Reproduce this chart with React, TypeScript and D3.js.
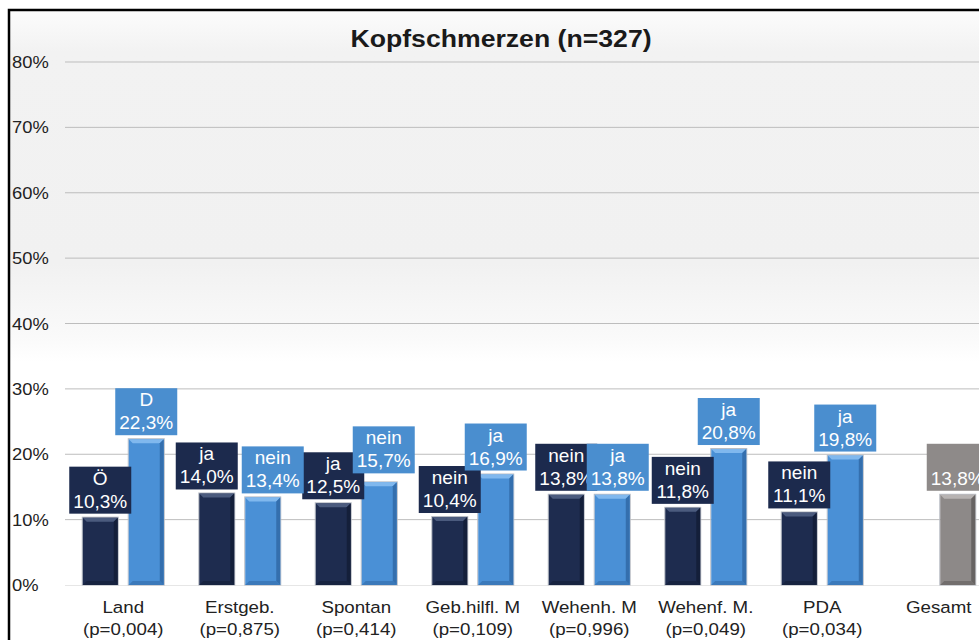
import * as d3 from 'd3'

const categories = ['Land', 'Erstgeb.', 'Spontan', 'Geb.hilfl. M', 'Wehenh. M', 'Wehenf. M.', 'PDA', 'Gesamt']
const pValues = ['(p=0,004)', '(p=0,875)', '(p=0,414)', '(p=0,109)', '(p=0,996)', '(p=0,049)', '(p=0,034)', '']
const groupALabels = ['Ö', 'ja', 'ja', 'nein', 'nein', 'nein', 'nein']
const groupAValues = [10.3, 14.0, 12.5, 10.4, 13.8, 11.8, 11.1]
const groupBLabels = ['D', 'nein', 'nein', 'ja', 'ja', 'ja', 'ja']
const groupBValues = [22.3, 13.4, 15.7, 16.9, 13.8, 20.8, 19.8]
const totalValue = 13.8
const yTicks = [0, 10, 20, 30, 40, 50, 60, 70, 80]

// label placement tweaks (Excel pushes colliding labels apart)
const labelNudge: Record<string, [number, number]> = {
  'Erstgeb.|a': [-10, 0],
  'Erstgeb.|b': [10, 0],
  'Spontan|b': [4.5, -5],
  'Wehenh. M|b': [5.5, 0],
  'Gesamt|b': [-4, 0],
}

const W = 979, H = 640
const FONT = '"Liberation Sans", Arial, sans-serif'

const palette = {
  a: { base: '#1e2c4f', top: '#4b5b7e', side: '#141f3a', box: '#1c2a4d' },
  b: { base: '#4a90d6', top: '#80b8ee', side: '#346fae', box: '#4a8ecf' },
  t: { base: '#8d8988', top: '#b7b3b2', side: '#676362', box: '#8e8a89' },
}

type Kind = 'a' | 'b' | 't'
interface Item { cat: string; slot: 'a' | 'b'; kind: Kind; value: number; label: string }

const items: Item[] = [
  ...groupAValues.map((v, i) => ({ cat: categories[i], slot: 'a' as const, kind: 'a' as Kind, value: v, label: groupALabels[i] })),
  ...groupBValues.map((v, i) => ({ cat: categories[i], slot: 'b' as const, kind: 'b' as Kind, value: v, label: groupBLabels[i] })),
  { cat: 'Gesamt', slot: 'b', kind: 't', value: totalValue, label: '' },
]

const fmt = (v: number) => v.toFixed(1).replace('.', ',') + '%'

// text that is a bit wider than normal, like the original rendering
function SText({ x, y, sx = 1.1, children, ...rest }: any) {
  return (
    <text transform={`translate(${x},${y}) scale(${sx},1)`} {...rest}>{children}</text>
  )
}

function Bar({ x, y, w, h, kind }: { x: number; y: number; w: number; h: number; kind: Kind }) {
  const c = palette[kind]
  const b = 4
  return (
    <g>
      <rect x={x - 0.5} y={y - 0.5} width={w + 1} height={h + 0.5} fill="none" stroke="#b8bcc4" strokeWidth={1} />
      <rect x={x} y={y} width={w} height={h} fill={c.base} />
      <polygon points={`${x},${y} ${x + w},${y} ${x + w - b},${y + b} ${x + b},${y + b}`} fill={c.top} />
      <polygon points={`${x + w},${y} ${x + w},${y + h} ${x + w - b},${y + h - b} ${x + w - b},${y + b}`} fill={c.side} />
      <polygon points={`${x},${y + h} ${x + b},${y + h - b} ${x + w - b},${y + h - b} ${x + w},${y + h}`} fill={c.side} opacity={0.7} />
    </g>
  )
}

export default function App() {
  const x0 = d3.scaleBand<string>().domain(categories).range([65, 997])
  const x1 = d3.scaleBand<string>().domain(['a', 'b']).range([17.75, 98.75]).paddingInner(0.239)
  const y = d3.scaleLinear().domain([0, 80]).range([585, 62])

  const boxW = 62, boxH = 47

  return (
    <div style={{ position: 'absolute', left: 0, top: 0 }}>
      <svg width={W} height={H} style={{ display: 'block', fontFamily: FONT }}>
        <defs>
          <linearGradient id="bg" x1="0" y1="10" x2="0" y2="362" gradientUnits="userSpaceOnUse">
            <stop offset="0" stopColor="#fcfcfc" />
            <stop offset="0.12" stopColor="#f2f2f2" />
            <stop offset="0.72" stopColor="#f1f1f1" />
            <stop offset="0.93" stopColor="#fafafa" />
            <stop offset="1" stopColor="#ffffff" />
          </linearGradient>
        </defs>
        <rect x={0} y={0} width={W} height={H} fill="#fff" />
        <rect x={9} y={10} width={W} height={352} fill="url(#bg)" />
        <rect x={9} y={10} width={W + 20} height={H + 20} fill="none" stroke="#000" strokeWidth={2.5} />

        <SText x={501} y={47} sx={1.11} textAnchor="middle" fontSize={24} fontWeight="bold" fill="#1a1a1a">
          Kopfschmerzen (n=327)
        </SText>

        {yTicks.map(t => (
          <g key={t}>
            {t > 0 && <line x1={65} x2={W} y1={y(t)} y2={y(t)} stroke="#bdbdbd" strokeWidth={1} />}
            <SText x={12} y={y(t) + 6} sx={1.08} fontSize={17} fill="#222">{t}%</SText>
          </g>
        ))}
        <line x1={65} x2={W} y1={y(0) + 0.5} y2={y(0) + 0.5} stroke="#e6e6e6" strokeWidth={1} />

        {items.map((d, i) => {
          const bx = x0(d.cat)! + x1(d.slot)! + (d.kind === 't' ? labelNudge['Gesamt|b'][0] : 0)
          const bw = x1.bandwidth()
          const top = y(d.value)
          return <Bar key={'bar' + i} x={bx} y={top} w={bw} h={y(0) - top} kind={d.kind} />
        })}

        {items.map((d, i) => {
          const [dx, dy] = labelNudge[d.cat + '|' + d.slot] ?? [0, 0]
          const cx = x0(d.cat)! + x1(d.slot)! + x1.bandwidth() / 2 + dx
          const by = y(d.value) - 4 - boxH + dy
          return (
            <g key={'lbl' + i}>
              <rect x={cx - boxW / 2} y={by} width={boxW} height={boxH} fill={palette[d.kind].box} />
              <text x={cx} y={by + 18} textAnchor="middle" fontSize={19} fill="#fff">{d.label}</text>
              <text x={cx} y={by + 41} textAnchor="middle" fontSize={19} fill="#fff">{fmt(d.value)}</text>
            </g>
          )
        })}

        {categories.map((c, i) => {
          const cx = x0(c)! + x0.bandwidth() / 2
          return (
            <g key={'x' + i}>
              <SText x={cx} y={613} textAnchor="middle" fontSize={17} fill="#222">{c}</SText>
              <SText x={cx} y={635} textAnchor="middle" fontSize={17} fill="#222">{pValues[i]}</SText>
            </g>
          )
        })}
      </svg>
    </div>
  )
}
